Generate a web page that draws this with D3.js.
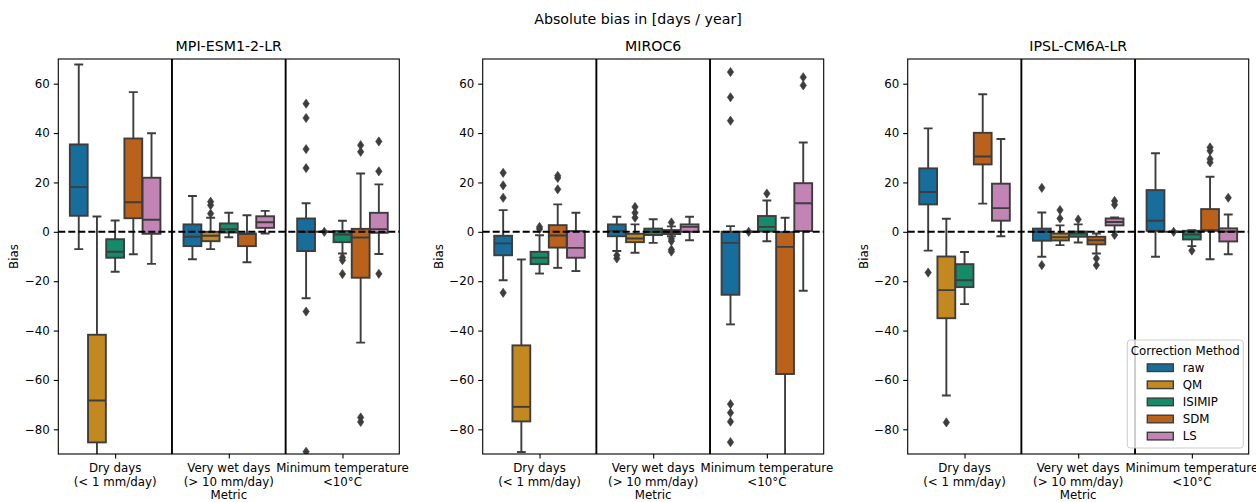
<!DOCTYPE html>
<html>
<head>
<meta charset="utf-8">
<script src="https://cdn.jsdelivr.net/npm/d3@7"></script>
<style>
  body { margin: 0; background: #fff; }
  svg { display: block; }
  text { font-family: "DejaVu Sans", sans-serif; fill: #000; }
</style>
</head>
<body>
<svg id="chart" width="1256" height="502"></svg>
<script>
// ---- data -------------------------------------------------------------
const models = ["MPI-ESM1-2-LR", "MIROC6", "IPSL-CM6A-LR"];
const metrics = [
  ["Dry days", "(< 1 mm/day)"],
  ["Very wet days", "(> 10 mm/day)"],
  ["Minimum temperature", "<10°C"]
];
const methods = ["raw", "QM", "ISIMIP", "SDM", "LS"];
const methodColors = ["#0173b2", "#de8f05", "#029e73", "#d55e00", "#cc78bc"];
const yTicks = [-80, -60, -40, -20, 0, 20, 40, 60];

// box statistics per metric, per method: [low whisker, Q1, median, Q3, high whisker]
const mpiBoxes = [
  [[-7.0, 6.5, 18.1, 35.4, 67.8], [-96, -85.3, -68.3, -41.7, 6.2], [-16.2, -10.5, -8.1, -3.0, 4.6], [-9.1, 5.5, 12.0, 37.8, 56.6], [-13.0, -0.8, 4.9, 21.9, 39.9]],
  [[-11.1, -5.8, -2.0, 3.0, 14.5], [-7.0, -3.8, -1.6, 0.0, 5.7], [-2.2, -0.3, 1.1, 3.4, 7.7], [-12.3, -5.8, -0.9, -0.7, 6.7], [-0.7, 1.6, 3.9, 6.3, 8.5]],
  [[-26.9, -7.8, 0.0, 5.4, 11.6], [0, 0, 0, 0, 0], [-8.8, -4.2, -1.1, 0.3, 4.5], [-44.9, -18.6, -2.3, 1.2, 23.6], [-9.0, -0.4, 1.1, 7.7, 19.2]]
];
const mpiFliers = [
  [[], [], [], [], []],
  [[], [12.2, 10.8, 7.4], [], [], []],
  [[51.9, 46.1, 33.5, 25.8, -32.3, -89.1], [0], [-10.4, -11.5, -17.1], [35.1, 32.4, -75.2, -77.0], [36.6, 24.5, -17.0]]
];

const mirocBoxes = [
  [[-19.6, -9.5, -4.7, -1.6, 8.8], [-89.2, -76.8, -70.9, -46.0, -11.2], [-16.9, -13.1, -10.5, -8.1, -1.4], [-14.6, -6.4, -1.5, 2.7, 11.1], [-15.9, -10.5, -6.5, 0.3, 7.7]],
  [[-7.8, -1.8, 0.4, 3.0, 6.1], [-8.5, -4.2, -2.7, -0.8, 3.0], [-4.5, -1.3, 0.0, 1.3, 5.1], [-1.8, -0.9, -0.1, 0.7, 2.2], [-3.4, 0.0, 2.0, 3.0, 6.1]],
  [[-37.5, -25.5, -4.5, 0.0, 2.3], [0, 0, 0, 0, 0], [-3.8, 0.1, 2.0, 6.4, 12.7], [-96, -57.6, -6.1, -0.1, 5.7], [-23.9, 0.3, 11.6, 19.7, 36.2]]
];
const mirocFliers = [
  [[23.9, 18.8, 13.8, -24.7], [], [2.0, 1.1], [22.7, 21.8, 17.2], []],
  [[-9.5, -10.8], [10.1, 7.7, 5.7], [], [3.8, -2.8, -3.8, -7.2, -8.0], []],
  [[64.7, 54.5, 45.0, -69.8, -73.3, -76.9, -85.2], [0], [15.5], [], [62.6, 59.3]]
];

const ipslBoxes = [
  [[-7.6, 11.1, 16.1, 25.7, 41.9], [-66.3, -35.0, -23.6, -10.0, 5.3], [-29.3, -22.4, -19.6, -13.1, -8.2], [11.4, 27.3, 30.5, 40.1, 55.7], [-1.8, 4.5, 9.6, 19.5, 37.6]],
  [[-10.1, -3.6, 0.0, 1.3, 7.8], [-5.4, -3.5, -2.2, -0.7, 2.6], [-4.3, -2.0, -0.7, 0.1, 3.0], [-8.8, -5.1, -3.4, -2.0, -0.7], [0.0, 2.6, 4.0, 5.4, 5.8]],
  [[-10.1, 0.4, 4.5, 16.9, 31.8], [0, 0, 0, 0, 0], [-5.8, -3.1, -1.1, 0.4, 0.7], [-11.1, 0.4, 0.7, 9.2, 22.3], [-9.1, -3.9, 0.1, 1.4, 7.0]]
];
const ipslFliers = [
  [[-16.5], [-77.2], [], [], []],
  [[17.8, -13.5], [8.8, 5.4], [5.0], [-10.8, -13.5], [12.5, 11.0, -1.3]],
  [[], [0], [-7.6], [34.2, 32.8, 29.5, 28.1], [13.8]]
];

const panelBoxes = [mpiBoxes, mirocBoxes, ipslBoxes];
const panelFliers = [mpiFliers, mirocFliers, ipslFliers];

// ---- layout -----------------------------------------------------------
const svg = d3.select("#chart");
const panelLefts = [58.3, 482.7, 907.7];
const panelWidth = 341;
const plotTop = 59, plotBottom = 454;
const edge = "#3d3d3d";
const labelSize = "11.8px", titleSize = "14.2px";

// seaborn-style desaturated fill colours
const fills = methodColors.map(c => { const h = d3.hsl(c); h.s *= 0.75; return h.formatHex(); });

// thin diamond flier marker
const flierPath = "M0,-4.6L3.2,0L0,4.6L-3.2,0Z";

svg.append("text")
  .attr("x", 638).attr("y", 24)
  .attr("text-anchor", "middle")
  .style("font-size", titleSize)
  .text("Absolute bias in [days / year]");

const defs = svg.append("defs");

models.forEach((model, p) => {
  const left = panelLefts[p];
  const x = d3.scaleLinear().domain([-0.5, 2.5]).range([left, left + panelWidth]);
  const y = d3.scaleLinear().domain([-90, 70]).range([plotBottom, plotTop]);
  const unit = x(1) - x(0);
  const boxW = unit * 0.16 * 0.98;

  defs.append("clipPath").attr("id", "clip" + p)
    .append("rect").attr("x", left).attr("y", plotTop)
    .attr("width", panelWidth).attr("height", plotBottom - plotTop);

  const g = svg.append("g");
  const plot = g.append("g").attr("clip-path", `url(#clip${p})`);

  panelBoxes[p].forEach((row, m) => {
    row.forEach((s, k) => {
      const cx = x(m + (k - 2) * 0.16);
      const [lo, q1, med, q3, hi] = s;
      const bg = plot.append("g");
      // whiskers
      bg.append("line").attr("x1", cx).attr("x2", cx).attr("y1", y(q3)).attr("y2", y(hi))
        .attr("stroke", edge).attr("stroke-width", 1.9);
      bg.append("line").attr("x1", cx).attr("x2", cx).attr("y1", y(q1)).attr("y2", y(lo))
        .attr("stroke", edge).attr("stroke-width", 1.9);
      [lo, hi].forEach(v => {
        bg.append("line").attr("x1", cx - boxW / 4).attr("x2", cx + boxW / 4)
          .attr("y1", y(v)).attr("y2", y(v))
          .attr("stroke", edge).attr("stroke-width", 1.9);
      });
      // box
      bg.append("rect")
        .attr("x", cx - boxW / 2).attr("width", boxW)
        .attr("y", y(q3)).attr("height", Math.max(0, y(q1) - y(q3)))
        .attr("fill", fills[k]).attr("stroke", edge).attr("stroke-width", 1.9);
      // median
      bg.append("line").attr("x1", cx - boxW / 2).attr("x2", cx + boxW / 2)
        .attr("y1", y(med)).attr("y2", y(med))
        .attr("stroke", edge).attr("stroke-width", 1.9);
      // fliers
      panelFliers[p][m][k].forEach(v => {
        bg.append("path")
          .attr("d", flierPath)
          .attr("transform", `translate(${cx},${y(v)})`)
          .attr("fill", edge).attr("stroke", edge).attr("stroke-width", 0.6);
      });
    });
  });

  // zero reference line and metric separators
  g.append("line").attr("x1", left).attr("x2", left + panelWidth)
    .attr("y1", y(0)).attr("y2", y(0))
    .attr("stroke", "#000").attr("stroke-width", 1.9).attr("stroke-dasharray", "7,3");
  [0.5, 1.5].forEach(v => {
    g.append("line").attr("x1", x(v)).attr("x2", x(v))
      .attr("y1", plotTop).attr("y2", plotBottom)
      .attr("stroke", "#000").attr("stroke-width", 1.9);
  });

  // frame
  g.append("rect").attr("x", left).attr("y", plotTop)
    .attr("width", panelWidth).attr("height", plotBottom - plotTop)
    .attr("fill", "none").attr("stroke", "#000").attr("stroke-width", 1.1);

  // y axis
  const yAxis = d3.axisLeft(y).tickValues(yTicks).tickSize(4.5).tickPadding(4)
    .tickFormat(d => d < 0 ? "\u2212" + Math.abs(d) : d);
  const ya = g.append("g").attr("transform", `translate(${left},0)`).call(yAxis);
  ya.select(".domain").remove();
  ya.selectAll("line").attr("stroke", "#000").attr("stroke-width", 1.1);
  ya.selectAll("text").style("font-size", labelSize).style("font-family", "DejaVu Sans, sans-serif").attr("fill", "#000");

  // x axis
  const xAxis = d3.axisBottom(x).tickValues([0, 1, 2]).tickSize(4.5).tickFormat("");
  const xa = g.append("g").attr("transform", `translate(0,${plotBottom})`).call(xAxis);
  xa.select(".domain").remove();
  xa.selectAll("line").attr("stroke", "#000").attr("stroke-width", 1.1);
  metrics.forEach((lines, m) => {
    const t = g.append("text").attr("text-anchor", "middle").style("font-size", labelSize);
    lines.forEach((ln, i) => {
      t.append("tspan").attr("x", x(m)).attr("y", 471.5 + i * 14).text(ln);
    });
  });

  g.append("text").attr("x", left + panelWidth / 2).attr("y", 498.5)
    .attr("text-anchor", "middle").style("font-size", labelSize).text("Metric");
  g.append("text")
    .attr("transform", `translate(${left - 40},${(plotTop + plotBottom) / 2}) rotate(-90)`)
    .attr("text-anchor", "middle").style("font-size", labelSize).text("Bias");
  g.append("text").attr("x", left + panelWidth / 2).attr("y", 51)
    .attr("text-anchor", "middle").style("font-size", titleSize).text(model);

  // legend in the last panel
  if (p === 2) {
    const lg = svg.append("g");
    lg.append("rect").attr("x", 1127.3).attr("y", 340).attr("width", 116).attr("height", 108)
      .attr("rx", 3).attr("fill", "#fff").attr("fill-opacity", 0.8)
      .attr("stroke", "#cccccc").attr("stroke-width", 1);
    lg.append("text").attr("x", 1185.3).attr("y", 354.5).attr("text-anchor", "middle")
      .style("font-size", labelSize).text("Correction Method");
    methods.forEach((name, k) => {
      const cy = 367.7 + k * 17.1;
      lg.append("rect").attr("x", 1147.3).attr("y", cy - 3.8).attr("width", 26).attr("height", 7.6)
        .attr("fill", fills[k]).attr("stroke", edge).attr("stroke-width", 1.4);
      lg.append("text").attr("x", 1182.7).attr("y", cy + 4.2).style("font-size", labelSize).text(name);
    });
  }
});
</script>
</body>
</html>
